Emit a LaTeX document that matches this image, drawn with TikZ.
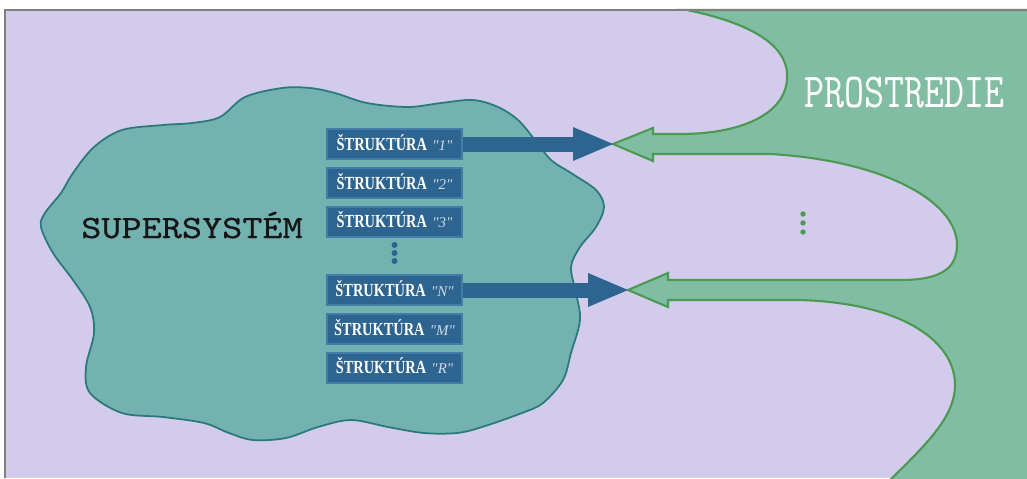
\documentclass[tikz,border=0pt]{standalone}
\usepackage{fontspec}
\usetikzlibrary{arrows.meta,positioning}
\newfontfamily\structfont[FakeStretch=0.78]{Liberation Serif}
\newfontfamily\quotefont{Liberation Serif}
\newfontfamily\sysfont[FakeStretch=1.18,FakeBold=0.7]{lmmono10-regular.otf}
\newfontfamily\envfont[FakeStretch=0.78]{lmmono10-regular.otf}
\definecolor{lilacBg}{HTML}{D3CBEB}
\definecolor{envGreen}{HTML}{80BDA3}
\definecolor{envEdge}{HTML}{4A9A52}
\definecolor{cloudTeal}{HTML}{74B2B2}
\definecolor{cloudEdge}{HTML}{2A7A79}
\definecolor{boxBlue}{HTML}{2D6590}
\definecolor{boxEdge}{HTML}{417DA6}
\definecolor{quoteGray}{HTML}{D2DAE6}
\definecolor{frameGray}{HTML}{7F7F7F}
\definecolor{sysInk}{HTML}{161616}
\newcommand{\structlabel}[1]{{\bfseries ŠTRUKTÚRA}\hspace{3pt}{\quotefont\itshape\fontsize{8.5}{9}\selectfont\color{quoteGray}"#1"}}
\tikzset{
  struct box/.style={draw=boxEdge,fill=boxBlue,line width=0.8pt,minimum width=2.7cm,minimum height=0.6cm,inner sep=0pt,text height=0.246cm,text depth=0pt,text=white,font=\structfont\fontsize{10.5}{12}\selectfont},
  struct arrow/.style={draw=boxBlue,line width=0.3cm,-{Triangle[length=0.8cm,width=0.68cm,line width=0pt]}},
  env region/.style={fill=envGreen,draw=envEdge,line width=1.2pt,line join=miter},
  cloud region/.style={fill=cloudTeal,draw=cloudEdge,line width=1pt},
  big label/.style={anchor=base}
}
\begin{document}
\begin{tikzpicture}[x=0.02cm,y=-0.02cm]
    \useasboundingbox (0,0) rectangle (1027,478);
    \fill[white] (0,0) rectangle (1027,478);
    \fill[lilacBg] (5,10) rectangle (1027,478);
    \coordinate (meet1) at (613,144);
    \coordinate (meet2) at (628,290);
    \path[env region] (687,10) .. controls (760,25) and (790,50) .. (787,80) .. controls (784,115) and (740,134) .. (680,134)
      -- (653,134) -- (653,128) -- (meet1) -- (653,161) -- (653,154)
      -- (770,154) .. controls (880,160) and (957,200) .. (957,245) .. controls (957,272) and (935,280) .. (900,280)
      -- (668,280) -- (668,273) -- (meet2) -- (668,307) -- (668,300)
      -- (800,300) .. controls (900,303) and (955,340) .. (955,385) .. controls (955,420) and (920,450) .. (880,490)
      -- (1040,490) -- (1040,10) -- cycle;
    \path[cloud region] plot[smooth cycle,tension=0.55] coordinates {
      (282,88) (310,88) (335,93) (367,103) (408,107) (441,103) (473,100) (498,107) (518,120) (535,140)
      (551,160) (571,173) (596,190) (604,207) (596,227) (580,247) (571,267) (576,293) (580,320) (571,353)
      (563,380) (543,403) (522,413) (482,427) (457,433) (424,433) (388,427) (351,420) (318,427) (286,438)
      (253,440) (229,433) (204,423) (163,417) (122,413) (90,393) (86,367) (94,333) (90,307) (73,280)
      (53,253) (41,227) (45,213) (61,193) (73,173) (94,147) (122,130) (163,125) (192,123) (220,117) (245,97)};
    \node[struct box] (s1) at (394.5,144) {\structlabel{1}};
    \node[struct box,below=0.15cm of s1] (s2) {\structlabel{2}};
    \node[struct box,below=0.15cm of s2] (s3) {\structlabel{3}};
    \node[struct box] (sN) at (394.5,290) {\structlabel{N}};
    \node[struct box,below=0.15cm of sN] (sM) {\structlabel{M}};
    \node[struct box,below=0.15cm of sM] (sR) {\structlabel{R}};
    \draw[struct arrow] (s1.east) -- (meet1);
    \draw[struct arrow] (sN.east) -- (meet2);
    \foreach \dy in {245,253,261}
      \fill[boxBlue] (394.5,\dy) circle (3);
    \foreach \dy in {214,223,232}
      \fill[envEdge] (803,\dy) circle (2.7);
    \node[big label,text=sysInk,font=\sysfont\fontsize{18.5}{20}\selectfont] (supersys) at (192,238) {SUPERSYSTÉM};
    \node[big label,text=white,font=\envfont\fontsize{27.8}{30}\selectfont] (envlabel) at (904,107) {PROSTREDIE};
    \draw[frameGray,line width=0.8pt] (5,478) -- (5,10) -- (1027,10);
\end{tikzpicture}
\end{document}
